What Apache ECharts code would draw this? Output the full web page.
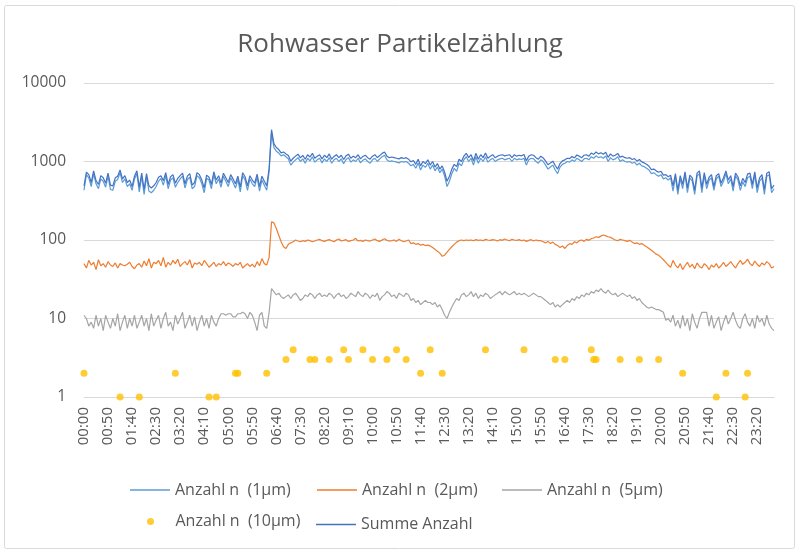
<!DOCTYPE html>
<html>
<head>
<meta charset="utf-8">
<script src="https://cdn.jsdelivr.net/npm/echarts@6/dist/echarts.min.js"></script>
<style>html,body{margin:0;padding:0;background:#fff}#c{width:800px;height:555px}</style>
</head>
<body>
<div id="c"></div>
<script>
// Category labels: 5-minute steps over one day
const times = [];
for (let h = 0; h < 24; h++) {
  for (let m = 0; m < 60; m += 5) {
    times.push(String(h).padStart(2, '0') + ':' + String(m).padStart(2, '0'));
  }
}

const seriesNames = ['Anzahl n  (1µm)', 'Anzahl n  (2µm)', 'Anzahl n  (5µm)', 'Anzahl n  (10µm)', 'Summe Anzahl'];

const n1 = [
430,680,620,480,700,520,450,600,560,470,650,440,430,560,590,720,540,600,480,520,
430,600,700,410,650,380,640,420,400,430,480,560,610,500,660,450,580,620,470,540,
600,650,460,590,630,450,480,660,620,520,400,610,580,450,680,520,600,470,650,560,
480,620,540,460,590,410,660,580,430,600,520,480,630,420,580,500,
430,750,2350,1500,1350,1280,1180,1220,
1150,1080,900,980,1050,1120,1000,1080,950,1100,1020,1150,980,1050,1100,960,
1080,1000,1120,950,1050,1100,1000,1080,940,1060,1120,980,1050,1000,1100,960,1040,1080,1000,950,
1050,1100,1000,1080,1150,1200,1050,1000,1020,1000,980,960,1000,980,1000,950,880,920,820,960,780,900,840,950,
800,900,760,850,720,800,650,480,560,700,820,750,950,880,1050,1150,1000,
1100,900,1150,950,1100,1000,1150,980,1050,1100,1000,1050,1080,1100,1050,1080,1100,1000,1100,1050,1080,1060,1100,900,1050,1100,1080,1000,950,
1050,1000,900,800,850,900,780,700,850,920,
950,1000,980,1050,1000,1100,1050,1000,1080,1100,1050,1150,1100,1180,1120,1150,1100,1180,1000,1120,1050,1080,1150,1000,1050,1000,980,1000,950,980,900,950,880,
860,820,780,700,720,680,650,680,600,620,580,620,
420,640,380,600,450,680,400,620,560,380,650,700,400,660,450,580,620,430,600,650,480,560,700,520,600,420,660,580,430,550,480,620,650,450,680,400,560,620,380,650,680,400,450
];

const n2 = [
50,44,55,48,52,42,56,47,50,45,53,48,46,51,44,50,48,47,49,52,
46,43,48,50,45,54,47,58,44,52,50,55,47,60,45,52,48,55,50,57,
46,50,53,48,56,44,51,49,52,47,55,50,45,48,52,46,50,48,53,47,
51,49,46,50,48,52,44,47,50,46,49,45,53,47,58,50,
48,60,170,165,140,115,95,82,
78,88,92,95,100,97,95,98,96,100,98,95,97,100,102,98,
96,99,101,98,95,100,103,97,99,101,96,98,100,105,97,99,96,100,98,97,
100,103,98,96,100,104,99,97,98,100,96,102,98,95,97,100,90,92,88,90,86,88,85,86,
84,80,76,72,68,62,64,70,76,82,88,94,98,100,98,100,99,
100,98,101,99,100,98,102,100,99,101,100,97,101,99,103,100,98,102,100,99,101,98,100,96,99,101,97,100,98,
98,95,92,96,90,94,88,85,80,84,
78,85,90,88,95,92,98,100,96,102,99,104,106,110,108,112,116,113,110,108,104,100,98,102,100,98,96,99,94,90,92,88,90,
86,82,78,74,70,66,64,60,56,52,48,45,
55,48,44,50,42,47,52,45,49,43,51,46,44,50,47,42,48,45,50,44,47,52,46,49,53,48,44,50,55,49,52,57,50,47,54,49,46,51,48,53,50,44,46
];

const n5 = [
11,10,8,9,7.5,11,8,10,7,11,9,7.5,10,8,11.5,7,9,11,7.5,10,
8,11,7.5,9,11,8,10,7,11.5,8,9.5,11,7.5,10,12,8,9,7,11,8.5,
10,12,7.5,9,11,8,10.5,7,9,11,8,10,7.5,11,9,8,10,11.5,11.5,11,
11.5,11.5,10.5,10.5,11.5,11.5,12,11.5,10,12,11,9,7,11,12,8,
7.5,12,24,22,20,21,19,18,
19,20,18,20,21,19,17,18,20,19,21,20,18,20,21,19,
20,19,21,20,18,20,21,19,20,18,19,21,20,19,22,20,19,21,20,18,
20,19,21,17,19,20,22,21,19,20,18,21,20,19,21,20,17,18,16,17,15,16,17,16,
16,15,16,14,15,13,11,10,12,14,16,18,17,20,21,19,20,
22,19,21,18,20,19,21,20,18,19,20,21,22,20,22,21,20,21,22,20,21,20,21,20,19,20,21,20,19,
19,18,17,16,15,16,14,15,14,15,
16,17,16,18,17,19,18,20,19,21,20,22,21,23,22,24,22,21,23,21,20,21,19,20,21,20,19,20,18,19,17,18,16,
15,14,13.5,14,13.5,13,13,12.5,12,9.5,10,9,
11,8,9.5,7.5,11,8,10,7,11.5,9,7.5,10,12,12,12,8,11,7.5,9,10.5,7,9,11,8.5,10,12,9.5,8,7.5,10,11.5,9,8,10,7.5,11,9,10,8,11,8.5,7.5,7
];

// 10 µm counts: only the non-zero readings
const n10Times = ['00:00','01:15','01:55','03:10','04:20','04:35','05:15','05:20','06:20','07:00','07:15','07:50','08:00','08:30','09:00','09:10','09:40','10:00','10:30','10:50','11:10','11:40','12:00','12:25','13:55','15:15','16:20','16:40','17:35','17:40','17:45','18:35','19:15','19:55','20:45','21:55','22:15','22:55','23:00'];
const n10Values = [2,1,1,2,1,1,2,2,2,3,4,3,3,3,4,3,4,3,3,4,3,2,4,2,4,4,3,3,4,3,3,3,3,3,2,1,2,1,2];

const summe = [
490,730,680,540,760,570,510,660,620,530,710,500,490,620,650,780,600,660,540,580,
480,650,760,470,710,440,700,490,460,490,540,630,660,570,720,510,640,680,530,610,
660,710,520,650,700,500,540,720,680,580,460,670,630,510,740,580,660,530,710,620,
540,680,600,520,650,470,720,640,490,660,580,530,690,480,650,560,
490,820,2540,1690,1510,1420,1290,1320,
1250,1190,1010,1100,1170,1240,1110,1200,1070,1220,1140,1270,1100,1170,1220,1080,
1200,1120,1250,1070,1160,1220,1120,1200,1060,1180,1240,1100,1170,1120,1220,1080,1160,1200,1120,1070,
1170,1220,1120,1190,1270,1320,1170,1120,1140,1120,1100,1080,1120,1090,1120,1070,990,1030,920,1070,880,1000,940,1050,
900,1000,850,940,800,880,730,560,650,800,920,860,1070,1000,1170,1270,1120,
1220,1020,1270,1070,1220,1120,1280,1100,1170,1220,1120,1170,1200,1220,1180,1200,1220,1120,1220,1170,1200,1180,1230,1020,1170,1220,1200,1120,1070,
1170,1110,1010,910,960,1010,890,800,940,1020,
1050,1100,1090,1160,1110,1210,1170,1120,1200,1220,1170,1280,1230,1320,1250,1290,1240,1310,1130,1250,1170,1200,1270,1130,1170,1120,1100,1120,1060,1090,1010,1060,990,
960,920,870,790,800,760,730,750,670,680,640,670,
490,700,430,660,510,740,460,670,620,430,710,760,460,720,510,630,680,480,660,700,530,620,760,580,660,480,710,640,490,610,540,690,710,510,740,460,620,680,440,710,740,450,500
];

const colors = ['#5B9BD5', '#ED7D31', '#A5A5A5', '#FFC000', '#4472C4'];
const font = "'Open Sans', 'Noto Sans', sans-serif";
const textColor = '#595959';

const chart = echarts.init(document.getElementById('c'), null, {renderer: 'canvas'});

function lineLegend(name, left, top) {
  return {
    data: [name], left: left, top: top, icon: 'rect', itemWidth: 40, itemHeight: 1.5,
    padding: 0, textStyle: {color: textColor, fontSize: 16, fontFamily: font}, selectedMode: false
  };
}

chart.setOption({
  animation: false,
  backgroundColor: '#fff',
  color: colors,
  title: {
    text: 'Rohwasser Partikelzählung', left: 'center', top: 27,
    textStyle: {color: textColor, fontSize: 26, fontWeight: 'normal', fontFamily: font}
  },
  graphic: [{
    type: 'rect', shape: {x: 4.5, y: 5.5, width: 790, height: 543, r: 2},
    style: {fill: 'none', stroke: '#d9d9d9', lineWidth: 1}, silent: true, z: -1
  }],
  legend: [
    lineLegend(seriesNames[0], 130, 482),
    lineLegend(seriesNames[1], 317, 482),
    lineLegend(seriesNames[2], 502, 482),
    {data: [seriesNames[3]], left: 147, top: 513.5, icon: 'circle', itemWidth: 40, itemHeight: 7,
     padding: 0, textStyle: {color: textColor, fontSize: 16, fontFamily: font}, selectedMode: false},
    lineLegend(seriesNames[4], 316, 516.5)
  ],
  grid: {left: 84, right: 26, top: 83, bottom: 158, containLabel: false},
  xAxis: {
    type: 'category', data: times, boundaryGap: false,
    axisLine: {show: true, lineStyle: {color: '#d9d9d9'}},
    axisTick: {show: false},
    axisLabel: {interval: 9, rotate: 90, margin: 10, color: textColor, fontSize: 15, fontFamily: font},
    splitLine: {show: false}
  },
  yAxis: {
    type: 'log', logBase: 10, min: 1, max: 10000,
    axisLine: {show: false}, axisTick: {show: false},
    axisLabel: {color: textColor, fontSize: 15.5, fontFamily: font, margin: 18,
      formatter: function (v) { return String(Math.round(v)); }},
    splitLine: {lineStyle: {color: '#d9d9d9', width: 1}}
  },
  series: [
    {name: seriesNames[0], type: 'line', data: n1, symbol: 'none', lineStyle: {width: 1.2, color: colors[0]}, itemStyle: {color: colors[0]}},
    {name: seriesNames[1], type: 'line', data: n2, symbol: 'none', lineStyle: {width: 1.2, color: colors[1]}, itemStyle: {color: colors[1]}},
    {name: seriesNames[2], type: 'line', data: n5, symbol: 'none', lineStyle: {width: 1.2, color: colors[2]}, itemStyle: {color: colors[2]}},
    {name: seriesNames[3], type: 'scatter', data: n10Times.map((t, i) => [t, n10Values[i]]), symbol: 'circle', symbolSize: 7, itemStyle: {color: colors[3]}},
    {name: seriesNames[4], type: 'line', data: summe, symbol: 'none', lineStyle: {width: 1.2, color: colors[4]}, itemStyle: {color: colors[4]}}
  ]
});
</script>
</body>
</html>
